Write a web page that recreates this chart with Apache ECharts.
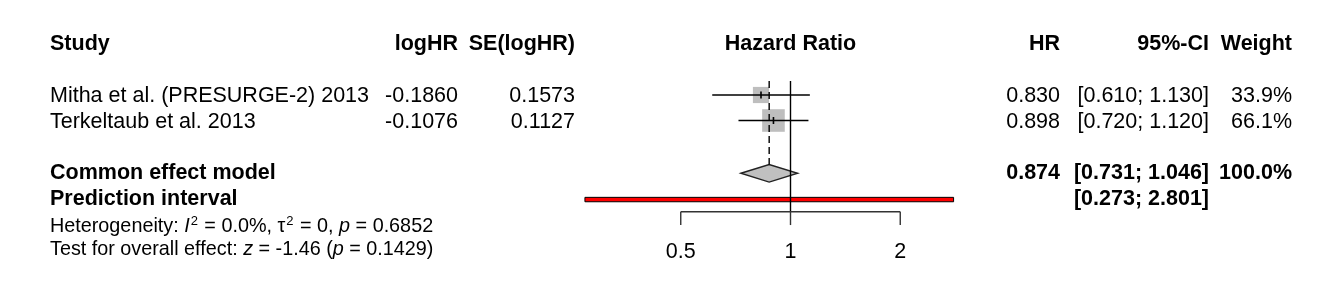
<!DOCTYPE html>
<html><head><meta charset="utf-8">
<script src="https://cdn.jsdelivr.net/npm/echarts@6/dist/echarts.min.js"></script>
<style>html,body{margin:0;padding:0;background:#fff}#c{width:1318px;height:295px}</style>
</head><body><div id="c"></div>
<script>
// ---------------- data ----------------
const studies = ['Mitha et al. (PRESURGE-2) 2013', 'Terkeltaub et al. 2013'];
const logHR = ['-0.1860', '-0.1076'];
const seLogHR = ['0.1573', '0.1127'];
const hr = [0.830, 0.898];
const ciLower = [0.610, 0.720];
const ciUpper = [1.130, 1.120];
const weights = [33.9, 66.1];
const pooled = [0.874, 0.731, 1.046];      // HR, lower, upper
const pooledWeight = 100.0;
const prediction = [0.273, 2.801];
const xTicks = [0.5, 1, 2];
const xTickLabels = ['0.5', '1', '2'];
const headers = ['Study', 'logHR', 'SE(logHR)', 'Hazard Ratio', 'HR', '95%-CI', 'Weight'];
const hetText = [['Heterogeneity: ', 'n'], ['I', 'it'], ['2', 'sup'], [' = 0.0%, \u03c4', 'n'], ['2', 'sup'],
  [' = 0, ', 'n'], ['p', 'it'], [' = 0.6852', 'n']];
const testText = [['Test for overall effect: ', 'n'], ['z', 'it'], [' = -1.46 (', 'n'], ['p', 'it'], [' = 0.1429)', 'n']];

// ---------------- layout ----------------
const FONT = '"Liberation Sans", Arial, Helvetica, sans-serif';
const FS = 21.5, FS_SMALL = 19.8;
const rows = {header: 0, studies: [2, 3], textShift: 0.05, common: 5.07, pred: 6.1, het: 7.15, test: 8.05,
  refTop: 1.45, axis: 6.58, tickEnd: 7.1, tickLabel: 8.16};
const col = {study: 50, logHR: 458, se: 575, hr: 1060, ci: 1209, w: 1292};

const fmt3 = v => v.toFixed(3);
const ciStr = (l, u) => '[' + fmt3(l) + '; ' + fmt3(u) + ']';

// text items for the table
const texts = [];
function addT(x, row, text, align, bold, size) {
  texts.push({x, row, text, align, bold: !!bold, size: size || FS});
}
addT(col.study, rows.header, headers[0], 'left', true);
addT(col.logHR, rows.header, headers[1], 'right', true);
addT(col.se, rows.header, headers[2], 'right', true);
addT(col.hr, rows.header, headers[4], 'right', true);
addT(col.ci, rows.header, headers[5], 'right', true);
addT(col.w, rows.header, headers[6], 'right', true);
studies.forEach((s, i) => {
  const r = rows.studies[i] + rows.textShift;
  addT(col.study, r, s, 'left');
  addT(col.logHR, r, logHR[i], 'right');
  addT(col.se, r, seLogHR[i], 'right');
  addT(col.hr, r, fmt3(hr[i]), 'right');
  addT(col.ci, r, ciStr(ciLower[i], ciUpper[i]), 'right');
  addT(col.w, r, weights[i].toFixed(1) + '%', 'right');
});
addT(col.study, rows.common, 'Common effect model', 'left', true);
addT(col.hr, rows.common, fmt3(pooled[0]), 'right', true);
addT(col.ci, rows.common, ciStr(pooled[1], pooled[2]), 'right', true);
addT(col.w, rows.common, pooledWeight.toFixed(1) + '%', 'right', true);
addT(col.study, rows.pred, 'Prediction interval', 'left', true);
addT(col.ci, rows.pred, ciStr(prediction[0], prediction[1]), 'right', true);

function richParts(parts) {
  return parts.map(p => '{' + p[1] + '|' + p[0] + '}').join('');
}
const richLines = [
  {row: rows.het, text: richParts(hetText)},
  {row: rows.test, text: richParts(testText)}
];

const chart = echarts.init(document.getElementById('c'), null, {renderer: 'canvas'});
const yCommon = {type: 'value', min: -1, max: 9, inverse: true, show: false};

const option = {
  backgroundColor: '#ffffff',
  animation: false,
  grid: [
    {left: 571, width: 439, top: 18.5, height: 255},
    {left: 0, right: 0, top: 18.5, height: 255}
  ],
  xAxis: [
    {type: 'log', logBase: 2, min: 0.25, max: 4, gridIndex: 0, show: false},
    {type: 'value', min: 0, max: 1318, gridIndex: 1, show: false}
  ],
  yAxis: [Object.assign({gridIndex: 0}, yCommon), Object.assign({gridIndex: 1}, yCommon)],
  series: [
    // prediction interval bar
    {
      type: 'custom', xAxisIndex: 0, yAxisIndex: 0, z: 2,
      data: [[prediction[0], prediction[1], rows.pred]],
      renderItem(params, api) {
        const a = api.coord([api.value(0), api.value(2)]);
        const b = api.coord([api.value(1), api.value(2)]);
        return {type: 'rect', shape: {x: a[0], y: a[1] - 2.2, width: b[0] - a[0], height: 4.4},
          style: {fill: '#ff0000', stroke: '#000', lineWidth: 1}};
      }
    },
    // pooled diamond
    {
      type: 'custom', xAxisIndex: 0, yAxisIndex: 0, z: 2,
      data: [[pooled[0], pooled[1], pooled[2], rows.common]],
      renderItem(params, api) {
        const r = api.value(3);
        const c = api.coord([api.value(0), r]);
        const l = api.coord([api.value(1), r]);
        const u = api.coord([api.value(2), r]);
        const h = 8.8;
        return {type: 'polygon', shape: {points: [[l[0], c[1]], [c[0], c[1] - h], [u[0], c[1]], [c[0], c[1] + h]]},
          style: {fill: '#c0c0c0', stroke: '#222', lineWidth: 1.4}};
      }
    },
    // studies: squares + CI
    {
      type: 'custom', xAxisIndex: 0, yAxisIndex: 0, z: 3,
      data: hr.map((h, i) => [h, ciLower[i], ciUpper[i], weights[i], rows.studies[i]]),
      renderItem(params, api) {
        const r = api.value(4);
        const c = api.coord([api.value(0), r]);
        const l = api.coord([api.value(1), r]);
        const u = api.coord([api.value(2), r]);
        const s = 2.78 * Math.sqrt(api.value(3));
        return {type: 'group', children: [
          {type: 'rect', shape: {x: c[0] - s / 2, y: c[1] - s / 2, width: s, height: s}, style: {fill: '#bebebe'}},
          {type: 'line', shape: {x1: l[0], y1: l[1], x2: u[0], y2: u[1]}, style: {stroke: '#000', lineWidth: 1.4}},
          {type: 'line', shape: {x1: c[0], y1: c[1] - 3.5, x2: c[0], y2: c[1] + 3.5}, style: {stroke: '#000', lineWidth: 1.6}}
        ]};
      }
    },
    // reference lines + axis
    {
      type: 'custom', xAxisIndex: 0, yAxisIndex: 0, z: 4,
      data: [[1]],
      renderItem(params, api) {
        const children = [];
        const top1 = api.coord([1, rows.refTop]);
        const bot1 = api.coord([1, rows.axis]);
        children.push({type: 'line', shape: {x1: top1[0], y1: top1[1], x2: bot1[0], y2: bot1[1]},
          style: {stroke: '#000', lineWidth: 1.4}});
        const dT = api.coord([pooled[0], rows.refTop]);
        const dC = api.coord([pooled[0], rows.common]);
        children.push({type: 'line', shape: {x1: dT[0], y1: dT[1], x2: dC[0], y2: dC[1] - 8.8},
          style: {stroke: '#000', lineWidth: 1.4, lineDash: [7, 4]}});
        const a0 = api.coord([xTicks[0], rows.axis]);
        const a1 = api.coord([xTicks[xTicks.length - 1], rows.axis]);
        children.push({type: 'line', shape: {x1: a0[0], y1: a0[1], x2: a1[0], y2: a1[1]},
          style: {stroke: '#333', lineWidth: 1.4}});
        xTicks.forEach((t, i) => {
          const p = api.coord([t, rows.axis]);
          const q = api.coord([t, rows.tickEnd]);
          children.push({type: 'line', shape: {x1: p[0], y1: p[1], x2: q[0], y2: q[1]},
            style: {stroke: '#333', lineWidth: 1.4}});
          const lp = api.coord([t, rows.tickLabel]);
          children.push({type: 'text', x: lp[0], y: lp[1],
            style: {text: xTickLabels[i], textAlign: 'center', textVerticalAlign: 'middle',
              font: FS + 'px ' + FONT, fill: '#000'}});
        });
        const hp = api.coord([1, rows.header]);
        children.push({type: 'text', x: hp[0], y: hp[1],
          style: {text: headers[3], textAlign: 'center', textVerticalAlign: 'middle',
            font: 'bold ' + FS + 'px ' + FONT, fill: '#000'}});
        return {type: 'group', children};
      }
    },
    // table text
    {
      type: 'custom', xAxisIndex: 1, yAxisIndex: 1, z: 5,
      data: texts.map(t => [t.x, t.row]),
      renderItem(params, api) {
        const t = texts[params.dataIndex];
        const p = api.coord([api.value(0), api.value(1)]);
        return {type: 'text', x: p[0], y: p[1],
          style: {text: t.text, textAlign: t.align, textVerticalAlign: 'middle',
            font: (t.bold ? 'bold ' : '') + t.size + 'px ' + FONT, fill: '#000'}};
      }
    },
    // heterogeneity / overall effect lines (rich text)
    {
      type: 'custom', xAxisIndex: 1, yAxisIndex: 1, z: 5,
      data: richLines.map(l => [col.study, l.row]),
      renderItem(params, api) {
        const l = richLines[params.dataIndex];
        const p = api.coord([api.value(0), api.value(1)]);
        return {type: 'text', x: p[0], y: p[1],
          style: {text: l.text, textAlign: 'left', textVerticalAlign: 'middle', fill: '#000',
            fontFamily: FONT, fontSize: FS_SMALL,
            rich: {
              n: {fontFamily: FONT, fontSize: FS_SMALL, fill: '#000', lineHeight: 22},
              it: {fontFamily: FONT, fontSize: FS_SMALL, fontStyle: 'italic', fill: '#000', lineHeight: 22},
              sup: {fontFamily: FONT, fontSize: 13, fill: '#000', verticalAlign: 'top', lineHeight: 14, padding: [0, 1, 0, 1]}
            }}};
      }
    }
  ]
};
chart.setOption(option);
</script>
</body></html>
